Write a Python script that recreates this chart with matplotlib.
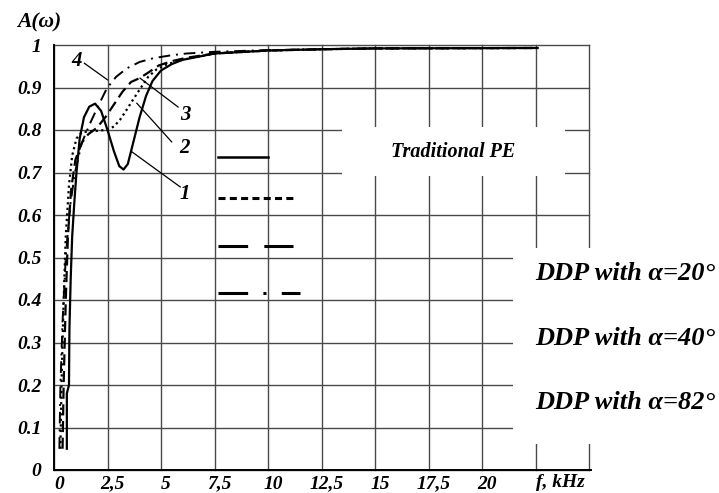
import numpy as np
import matplotlib as mpl
mpl.use('Agg')
import matplotlib.pyplot as plt
from matplotlib.transforms import ScaledTranslation

# frequency response of the four transducers, f in kHz
f1 = [0.6, 0.6, 0.7, 0.72, 0.78, 0.85, 0.95, 1.05, 1.2, 1.4, 1.65, 1.92, 2.2, 2.5, 2.8, 3.05,
      3.25, 3.45, 3.7, 4.0, 4.3, 4.6, 5.0, 5.5, 6.0, 7.5, 10.0, 12.5, 15.0, 22.6]
a1 = [0.05, 0.18, 0.2, 0.33, 0.45, 0.55, 0.63, 0.70, 0.78, 0.83, 0.855, 0.862, 0.845, 0.80, 0.75, 0.715,
      0.707, 0.72, 0.77, 0.83, 0.88, 0.915, 0.94, 0.955, 0.965, 0.98, 0.987, 0.99, 0.992, 0.993]

f2 = [0.3, 0.35, 0.45, 0.55, 0.7, 0.85, 1.05, 1.3, 1.8, 2.4, 2.8, 3.1, 3.4, 3.7, 4.0, 4.4,
      4.8, 5.3, 6.0, 7.5, 10.0, 12.5, 15.0, 22.6]
a2 = [0.05, 0.2, 0.4, 0.55, 0.67, 0.74, 0.78, 0.795, 0.797, 0.80, 0.808, 0.825, 0.848, 0.872, 0.895, 0.925,
      0.943, 0.955, 0.965, 0.98, 0.987, 0.99, 0.992, 0.993]

f3 = [0.4, 0.45, 0.55, 0.65, 0.8, 1.0, 1.3, 1.6, 2.0, 2.4, 2.8, 3.2, 3.6, 4.0, 4.4, 4.9,
      5.5, 6.2, 7.5, 10.0, 12.5, 15.0, 22.6]
a3 = [0.05, 0.2, 0.4, 0.55, 0.66, 0.73, 0.77, 0.79, 0.805, 0.83, 0.86, 0.89, 0.913, 0.922, 0.935, 0.952,
      0.962, 0.97, 0.98, 0.987, 0.99, 0.992, 0.993]

f4 = [0.25, 0.3, 0.4, 0.55, 0.75, 0.98, 1.3, 1.68, 2.05, 2.47, 2.9, 3.4, 4.0, 4.64, 5.5, 6.2,
      7.5, 10.0, 12.5, 15.0, 22.6]
a4 = [0.05, 0.2, 0.35, 0.5, 0.62, 0.70, 0.77, 0.815, 0.855, 0.898, 0.925, 0.945, 0.96, 0.969, 0.976, 0.98,
      0.984, 0.988, 0.99, 0.992, 0.993]

xticks = [0, 2.5, 5, 7.5, 10, 12.5, 15, 17.5, 20, 22.5, 25]
xlabels = ['0', '2,5', '5', '7,5', '10', '12,5', '15', '17,5', '20', '', '']
yticks = [0, 0.1, 0.2, 0.3, 0.4, 0.5, 0.6, 0.7, 0.8, 0.9, 1]
ylabels = ['0', '0.1', '0.2', '0.3', '0.4', '0.5', '0.6', '0.7', '0.8', '0.9', '1']

legend_names = ['Traditional PE', 'DDP with \u03b1=20\u00b0', 'DDP with \u03b1=40\u00b0', 'DDP with \u03b1=82\u00b0']

FONT = dict(family='Liberation Serif', weight='bold', style='italic')

fig = plt.figure(figsize=(7.19, 4.93), dpi=100)
ax = fig.add_axes([54 / 719, 23 / 493, 535 / 719, 425 / 493])
ax.set_xlim(0, 25)
ax.set_ylim(0, 1)

for s in ['top', 'right']:
    ax.spines[s].set_visible(False)
for s in ['left', 'bottom']:
    ax.spines[s].set_linewidth(1.4)
    ax.spines[s].set_color('black')
ax.spines['bottom'].set_bounds(0, 25.1)

ax.set_xticks(xticks)
ax.set_xticklabels(xlabels, fontsize=14, **FONT)
ax.set_yticks(yticks)
ax.set_yticklabels(ylabels, fontsize=14, **FONT)
ax.tick_params(length=0)
ax.tick_params(axis='x', pad=4)
ax.tick_params(axis='y', pad=9)
shift = ScaledTranslation(5 / 100, 0, fig.dpi_scale_trans)
for lab in ax.get_xticklabels():
    lab.set_transform(lab.get_transform() + shift)

ax.grid(True, color='#4a4a4a', linewidth=1.0)
for gl in ax.get_xgridlines() + ax.get_ygridlines():
    gl.set_clip_on(False)

# blank areas behind the captions
ax.add_patch(plt.Rectangle((13.46, 0.692), 10.42, 0.115, facecolor='white',
                           edgecolor='none', zorder=1.8))
ax.add_patch(plt.Rectangle((21.45, 0.061), 6.0, 0.461, facecolor='white',
                           edgecolor='none', zorder=1.8, clip_on=False))

ax.plot(f1, a1, color='black', lw=1.6, ls='-', zorder=3)
ax.plot(f2, a2, color='black', lw=1.6, ls=(0, (1, 1.5)), zorder=3)
ax.plot(f3, a3, color='black', lw=1.6, ls=(0, (5, 2.5)), zorder=3)
ax.plot(f4, a4, color='black', lw=1.4, ls=(0, (6, 3, 1, 3)), zorder=3)

# curve numbers with leader lines
notes = [('1', (6.12, 0.65), (5.9, 0.666), (3.63, 0.749)),
         ('2', (6.12, 0.757), (5.5, 0.772), (3.87, 0.863)),
         ('3', (6.12, 0.835), (5.8, 0.854), (4.02, 0.922)),
         ('4', (1.07, 0.962), (1.42, 0.957), (2.5, 0.918))]
for txt, pos, p0, p1 in notes:
    ax.plot([p0[0], p1[0]], [p0[1], p1[1]], color='black', lw=0.9, zorder=3)
    ax.text(pos[0], pos[1], txt, fontsize=15, ha='center', va='center', zorder=4, **FONT)

# legend keys
ax.plot([7.66, 10.0], [0.736, 0.736], color='black', lw=1.8, zorder=3)
ax.plot([7.66, 11.17], [0.64, 0.64], color='black', lw=2.2, ls=(0, (2.3, 1.4)),
        solid_capstyle='butt', zorder=3)
ax.plot([7.66, 11.17], [0.527, 0.527], color='black', lw=2.2, ls=(0, (9.7, 5.3)), zorder=3)
ax.plot([7.66, 11.5], [0.416, 0.416], color='black', lw=2.2, ls=(0, (9.7, 5.0, 1.0, 5.0)), zorder=3)

ax.text(18.65, 0.748, legend_names[0], fontsize=14.5, ha='center', va='center', zorder=4, **FONT)
for name, y in zip(legend_names[1:], [0.4635, 0.31, 0.158]):
    ax.text(22.48, y, name, fontsize=19, ha='left', va='center', zorder=4, clip_on=False, **FONT)

ax.text(22.52, -0.03, 'f, kHz', fontsize=14, ha='left', va='center', clip_on=False, **FONT)
ax.text(-1.73, 1.052, 'A(\u03c9)', fontsize=15.5, ha='left', va='center', clip_on=False, **FONT)

fig.savefig('out.png', dpi=100)
